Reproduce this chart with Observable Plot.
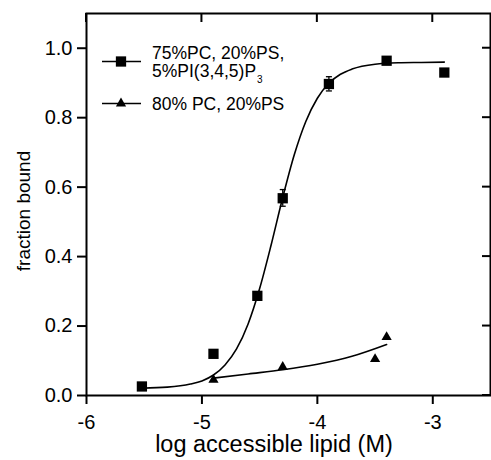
<!DOCTYPE html>
<html><head><meta charset="utf-8">
<script src="https://cdn.jsdelivr.net/npm/d3@7"></script>
<script src="https://cdn.jsdelivr.net/npm/@observablehq/plot@0.6"></script>
<style>
body{margin:0;background:#fff}
#chart{width:491px;height:460px}
</style>
</head><body><div id="chart"></div>
<script>
// Series 1: 75%PC, 20%PS, 5%PI(3,4,5)P3 (squares)
const pipX = [-5.52, -4.90, -4.52, -4.30, -3.90, -3.40, -2.90];
const pipY = [0.026, 0.120, 0.287, 0.568, 0.897, 0.964, 0.930];
// Series 2: 80% PC, 20%PS (triangles)
const psX = [-4.90, -4.30, -3.50, -3.40];
const psY = [0.045, 0.082, 0.105, 0.168];
// error bars (series 1)
const errX = [-4.52, -4.30, -3.90];
const errLo = [0.276, 0.545, 0.877];
const errHi = [0.298, 0.593, 0.918];
// fitted curve (series 1)
const fitPipX = [-5.52,-5.30,-5.10,-5.00,-4.90,-4.80,-4.70,-4.60,-4.50,-4.40,-4.30,-4.20,-4.10,-4.00,-3.90,-3.80,-3.70,-3.50,-3.30,-3.10,-2.90];
const fitPipY = [0.021,0.024,0.033,0.042,0.059,0.088,0.134,0.206,0.308,0.434,0.570,0.693,0.789,0.856,0.899,0.925,0.940,0.954,0.958,0.959,0.960];
// fitted curve (series 2)
const fitPsX = [-4.90, -4.60, -4.30, -4.00, -3.70, -3.40];
const fitPsY = [0.050, 0.062, 0.074, 0.090, 0.113, 0.147];
// axes
const xTicks = [-6, -5, -4, -3];
const yTicks = [0, 0.2, 0.4, 0.6, 0.8, 1.0];
const xLabel = "log accessible lipid (M)";
const yLabel = "fraction bound";
const legend1a = "75%PC, 20%PS,";
const legend1b = "5%PI(3,4,5)P";
const legend1sub = "3";
const legend2 = "80% PC, 20%PS";

const pip = pipX.map((x, i) => ({x, y: pipY[i]}));
const ps = psX.map((x, i) => ({x, y: psY[i]}));
const err = errX.map((x, i) => ({x, lo: errLo[i], hi: errHi[i]}));
const fitPip = fitPipX.map((x, i) => ({x, y: fitPipY[i]}));
const fitPs = fitPsX.map((x, i) => ({x, y: fitPsY[i]}));

const capSymbol = {draw(ctx) { ctx.moveTo(-3, 0); ctx.lineTo(3, 0); }};
const SQ_R = 5.8, TRI_R = 3.8;
const FONT = "'Liberation Sans', Arial, Helvetica, sans-serif";
const W = 491, H = 460, ML = 86, MR = 1, MT = 13, MB = 65;

const plot = Plot.plot({
  width: W, height: H,
  marginLeft: ML, marginRight: MR, marginTop: MT, marginBottom: MB,
  style: {fontFamily: FONT, fontSize: "20px", color: "#000", background: "#fff"},
  x: {domain: [-6, -2.5]},
  y: {domain: [0, 1.1]},
  marks: [
    Plot.axisX({ticks: xTicks, tickSize: 9, tickPadding: 10, strokeWidth: 2, fontSize: 20, tickFormat: d => d3.format("d")(d).replace("−", "-"), label: null}),
    Plot.axisY({ticks: yTicks, tickSize: 9, tickPadding: 5, strokeWidth: 2, fontSize: 20, tickFormat: d3.format(".1f"), label: null}),
    Plot.frame({stroke: "#000", strokeWidth: 2}),
    Plot.line(fitPip, {x: "x", y: "y", curve: "monotone-x", stroke: "#000", strokeWidth: 1.6}),
    Plot.line(fitPs, {x: "x", y: "y", curve: "monotone-x", stroke: "#000", strokeWidth: 1.6}),
    Plot.ruleX(err, {x: "x", y1: "lo", y2: "hi", stroke: "#000", strokeWidth: 1.3}),
    Plot.dot(err, {x: "x", y: "lo", symbol: capSymbol, stroke: "#000", strokeWidth: 1.3, fill: "none"}),
    Plot.dot(err, {x: "x", y: "hi", symbol: capSymbol, stroke: "#000", strokeWidth: 1.3, fill: "none"}),
    Plot.dot(pip, {x: "x", y: "y", symbol: "square", r: SQ_R, fill: "#000", stroke: "none"}),
    Plot.dot(ps, {x: "x", y: "y", symbol: "triangle", r: TRI_R, fill: "#000", stroke: "none"})
  ]
});
document.getElementById("chart").appendChild(plot);

const svg = d3.select(plot);
const sx = plot.scale("x"), sy = plot.scale("y");
const frameTop = MT, frameRight = W - MR;
// inward mirror ticks on the top and right edges, placed with Plot's own scales
const mt = svg.append("g").attr("stroke", "#000").attr("stroke-width", 2);
xTicks.forEach(v => {
  const px = sx.apply(v);
  mt.append("line").attr("x1", px).attr("x2", px).attr("y1", frameTop).attr("y2", frameTop + 9);
});
yTicks.forEach(v => {
  const py = sy.apply(v);
  mt.append("line").attr("x1", frameRight - 8).attr("x2", frameRight).attr("y1", py).attr("y2", py);
});

// axis titles
svg.append("text").attr("x", 274).attr("y", 452).attr("text-anchor", "middle")
  .style("font-size", "23.5px").attr("font-family", FONT).attr("fill", "#000").text(xLabel);
svg.append("text").attr("transform", "translate(30,211) rotate(-90)").attr("text-anchor", "middle")
  .style("font-size", "19px").attr("font-family", FONT).attr("fill", "#000").text(yLabel);

// legend
const lg = svg.append("g").attr("font-family", FONT).attr("text-anchor", "start")
  .style("font-size", "17.5px").attr("fill", "#000");
const rows = [{y: 61.5, sym: d3.symbolSquare, r: SQ_R}, {y: 103.5, sym: d3.symbolTriangle, r: TRI_R}];
rows.forEach(row => {
  lg.append("line").attr("x1", 102).attr("x2", 141).attr("y1", row.y).attr("y2", row.y)
    .attr("stroke", "#000").attr("stroke-width", 1.6);
  lg.append("path").attr("transform", `translate(121,${row.y})`)
    .attr("d", d3.symbol(row.sym, row.r * row.r * Math.PI)()).attr("fill", "#000");
});
lg.append("text").attr("x", 152).attr("y", 58.5).text(legend1a);
const t2 = lg.append("text").attr("x", 152).attr("y", 77);
t2.append("tspan").text(legend1b);
t2.append("tspan").style("font-size", "10px").attr("dx", 1).attr("dy", 6).text(legend1sub);
lg.append("text").attr("x", 152).attr("y", 110).text(legend2);
</script>
</body></html>
